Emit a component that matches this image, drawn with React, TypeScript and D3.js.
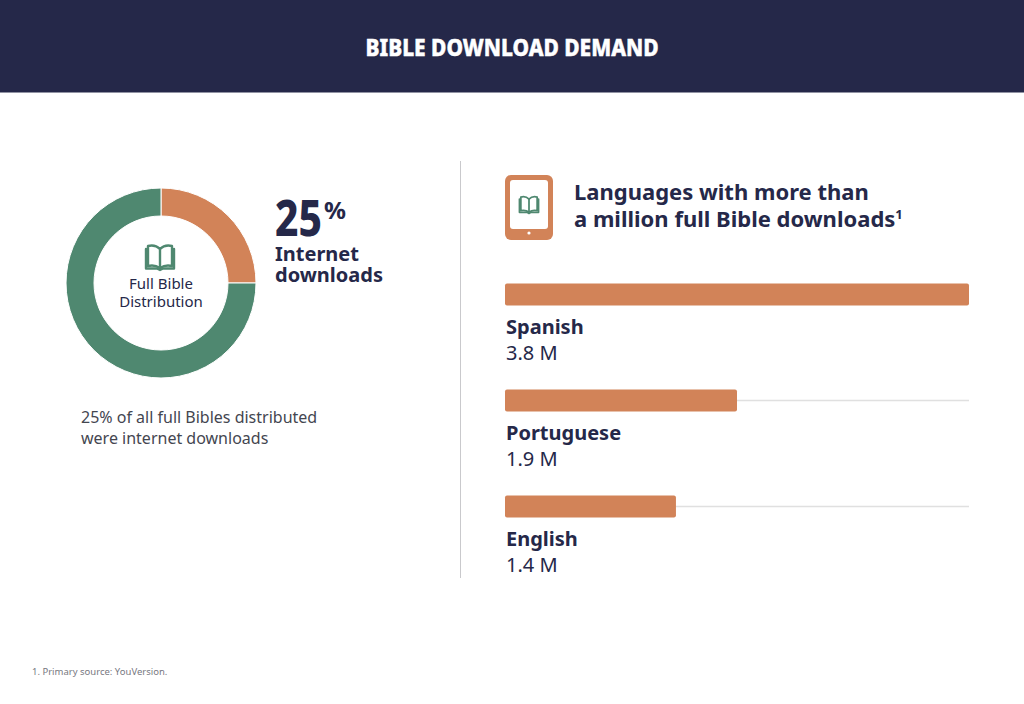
import React from 'react';
import * as d3 from 'd3';

const WIDTH = 1024;
const HEIGHT = 704;

const NAVY = '#252849';
const ORANGE = '#d28358';
const GREEN = '#4f8870';
const GREY = '#444650';

const shareLabels = ['Internet downloads', 'Other distribution'];
const shareValues = [25, 75];
const shareColors = [ORANGE, GREEN];

const languages = ['Spanish', 'Portuguese', 'English'];
const downloads = [3.8, 1.9, 1.4];
const FONT = '"Noto Sans", sans-serif';

// open book glyph, drawn around 0,0 at roughly 30x26
function BookIcon({ x, y, scale, strokeWidth }: { x: number; y: number; scale: number; strokeWidth: number }) {
  return (
    <g transform={`translate(${x},${y}) scale(${scale})`} fill="none" stroke={GREEN} strokeWidth={strokeWidth} strokeLinejoin="round" strokeLinecap="round">
      <path d="M0,-8 C-3,-11 -8,-12 -12,-11 L-12,9 C-8,8 -3,9 0,11 C3,9 8,8 12,9 L12,-11 C8,-12 3,-11 0,-8 Z" />
      <path d="M0,-8 L0,11" />
      <path d="M-14,-8 L-14,11.5 L-3,11.5 L0,13 L3,11.5 L14,11.5 L14,-8" />
    </g>
  );
}

export default function App() {
  const pie = d3.pie<number>().sort(null).value((d) => d);
  const arc = d3.arc<d3.PieArcDatum<number>>().innerRadius(67).outerRadius(95);
  const arcs = pie(shareValues);

  const x = d3.scaleLinear().domain([0, 3.8]).range([505, 969]);
  const rowY = d3.scalePoint<string>().domain(languages).range([283.5, 495.5]);

  return (
    <svg width={WIDTH} height={HEIGHT} viewBox={`0 0 ${WIDTH} ${HEIGHT}`} style={{ position: 'absolute', left: 0, top: 0, background: '#fff' }} fontFamily={FONT}>
      <rect x={0} y={0} width={WIDTH} height={92.5} fill={NAVY} />
      <text x={512} y={56} textAnchor="middle" fill="#fff" fontSize={23} fontWeight={800} stroke="#fff" strokeWidth={0.5} textLength={293} lengthAdjust="spacingAndGlyphs">
        BIBLE DOWNLOAD DEMAND
      </text>

      {/* donut */}
      <g transform="translate(161,283)">
        {arcs.map((d, i) => (
          <path key={shareLabels[i]} d={arc(d) ?? ''} fill={shareColors[i]} stroke="#fff" strokeWidth={1} />
        ))}
      </g>
      <BookIcon x={160} y={257} scale={1} strokeWidth={2.4} />
      <text x={161} y={289} textAnchor="middle" fill={NAVY} fontSize={15}>Full Bible</text>
      <text x={161} y={307} textAnchor="middle" fill={NAVY} fontSize={15}>Distribution</text>

      <text x={275} y={236} fill={NAVY} fontSize={50} fontWeight={800} textLength={47} lengthAdjust="spacingAndGlyphs">25</text>
      <text x={324} y={219} fill={NAVY} fontSize={24} fontWeight={700} textLength={22} lengthAdjust="spacingAndGlyphs">%</text>
      <text x={275} y={261} fill={NAVY} fontSize={20} fontWeight={700}>Internet</text>
      <text x={275} y={282} fill={NAVY} fontSize={20} fontWeight={700}>downloads</text>

      <text x={81} y={423} fill={GREY} fontSize={16}>25% of all full Bibles distributed</text>
      <text x={81} y={444} fill={GREY} fontSize={16}>were internet downloads</text>

      <line x1={460.5} x2={460.5} y1={161} y2={578} stroke="#c9c9cc" strokeWidth={1} />

      {/* tablet icon */}
      <rect x={505} y={175} width={48} height={65} rx={6} fill={ORANGE} />
      <rect x={510} y={180} width={38} height={49} rx={3} fill="#fff" />
      <circle cx={529} cy={233} r={1.6} fill="#fff" />
      <BookIcon x={529} y={204.5} scale={0.68} strokeWidth={2.6} />

      <text x={574} y={200} fill={NAVY} fontSize={22} fontWeight={700}>Languages with more than</text>
      <text x={574} y={227} fill={NAVY} fontSize={22} fontWeight={700}>
        a million full Bible downloads<tspan fontSize={13} dy={-8}>1</tspan>
      </text>

      {/* bars */}
      {languages.map((lang, i) => {
        const y0 = rowY(lang) ?? 0;
        return (
          <g key={lang}>
            <line x1={x(0)} x2={x(3.8)} y1={y0 + 11} y2={y0 + 11} stroke="#e0e0e0" strokeWidth={1.5} />
            <rect x={x(0)} y={y0} width={x(downloads[i]) - x(0)} height={22} rx={2} fill={ORANGE} />
            <text x={506} y={y0 + 50} fill={NAVY} fontSize={20} fontWeight={700}>{lang}</text>
            <text x={506} y={y0 + 76} fill={NAVY} fontSize={20}>{`${downloads[i]} M`}</text>
          </g>
        );
      })}

      <text x={32} y={675} fill="#77787f" fontSize={9.5}>1. Primary source: YouVersion.</text>
    </svg>
  );
}
